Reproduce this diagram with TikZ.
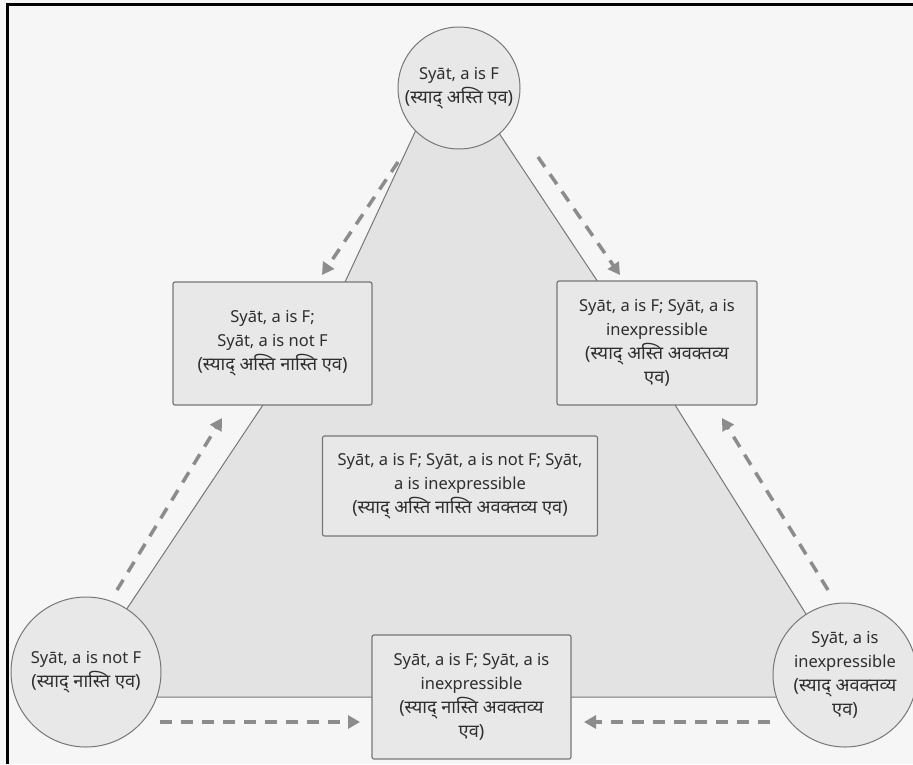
\documentclass[tikz,border=0pt]{standalone}
\usepackage{fontspec}
\setmainfont{Noto Sans}
\newfontfamily\devfont[Script=Devanagari,Scale=1.1]{Noto Sans}
\usetikzlibrary{arrows.meta}
\definecolor{bgcol}{HTML}{F6F6F6}
\definecolor{tricol}{HTML}{E3E3E3}
\definecolor{nodecol}{HTML}{E8E8E8}
\definecolor{edgecol}{HTML}{777777}
\definecolor{arrowcol}{HTML}{8C8C8C}
\definecolor{textcol}{HTML}{2E2E2E}
\newcommand{\skt}[1]{{\devfont #1}}

\begin{document}
\begin{tikzpicture}[x=1pt, y=-1pt, >={Triangle[length=12pt,width=13pt]},
    every node/.style={font=\fontsize{16.5}{24}\selectfont, text=textcol, align=center},
    state/.style={circle, draw=edgecol, fill=nodecol, line width=1pt, inner sep=0pt},
    combo/.style={rectangle, rounded corners=2pt, draw=edgecol, fill=nodecol, line width=1.2pt, inner sep=0pt},
    flow/.style={->, draw=arrowcol, line width=3.5pt, dash pattern=on 12pt off 9pt}]
    \useasboundingbox (0,0) rectangle (913,764);
    \fill[bgcol] (0,0) rectangle (913,764);
    \draw[black, line width=3pt] (7,764) -- (7,4.5) -- (913,4.5);

    \draw[edgecol, fill=tricol, line width=1pt] (430,100) -- (345,282) -- (68,697) -- (858,697) -- (598,282) -- (477,100) -- cycle;

    \node[state, minimum size=122pt] (fpos) at (459,88) {Syāt, a is F\\\skt{(स्याद् अस्ति एव)}};
    \node[state, minimum size=150pt] (fneg) at (86,672) {Syāt, a is not F\\\skt{(स्याद्  नास्ति  एव)}};
    \node[state, minimum size=144pt] (fnone) at (845,675) {Syāt, a is\\inexpressible\\\skt{(स्याद्  अवक्तव्य}\\\skt{एव)}};

    \node[combo, minimum width=199pt, minimum height=123pt] (posneg) at (272.5,343.5) {Syāt, a is F;\\Syāt, a is not F\\\skt{(स्याद् अस्ति नास्ति एव)}};
    \node[combo, minimum width=200pt, minimum height=124pt] (posnone) at (657,343) {Syāt, a is F; Syāt, a is\\inexpressible\\\skt{(स्याद् अस्ति अवक्तव्य}\\\skt{एव)}};
    \node[combo, minimum width=275pt, minimum height=100pt] (all) at (460,486) {Syāt, a is F; Syāt, a is not F; Syāt,\\a is inexpressible\\\skt{(स्याद् अस्ति नास्ति अवक्तव्य एव)}};
    \node[combo, minimum width=199pt, minimum height=124pt] (negnone) at (471.5,697) {Syāt, a is F; Syāt, a is\\inexpressible\\\skt{(स्याद् नास्ति अवक्तव्य}\\\skt{एव)}};

    \coordinate (s1) at (398,162); \coordinate (t1) at (322,275);
    \coordinate (s2) at (538,157); \coordinate (t2) at (620,275);
    \coordinate (s3) at (117,590); \coordinate (t3) at (222,418);
    \coordinate (s4) at (828,590); \coordinate (t4) at (722,418);
    \coordinate (s5) at (160,722); \coordinate (t5) at (360,722);
    \coordinate (s6) at (770,722); \coordinate (t6) at (584,722);

    \foreach \i in {1,...,6}
      \draw[flow] (s\i) -- (t\i);
  \end{tikzpicture}
\end{document}
